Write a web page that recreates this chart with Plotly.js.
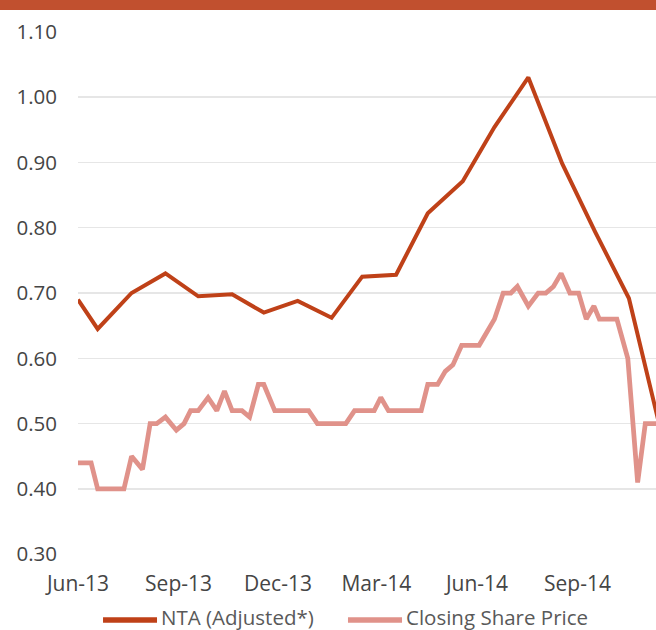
<!DOCTYPE html>
<html>
<head>
<meta charset="utf-8">
<script src="https://cdn.plot.ly/plotly-3.0.1.min.js"></script>
<style>
  html, body { margin: 0; padding: 0; background: #ffffff; }
  #chart { width: 656px; height: 630px; }
</style>
</head>
<body>
<div id="chart"></div>
<script>
// NTA (Adjusted*) - monthly values
const ntaDates = [
  '2013-06-01', '2013-06-19', '2013-07-20', '2013-08-20', '2013-09-19',
  '2013-10-20', '2013-11-18', '2013-12-19', '2014-01-19', '2014-02-16',
  '2014-03-19', '2014-04-17', '2014-05-19', '2014-06-17', '2014-07-18',
  '2014-08-18', '2014-09-17', '2014-10-18', '2014-11-16'
];
const ntaValues = [
  0.690, 0.645, 0.700, 0.730, 0.695,
  0.698, 0.670, 0.688, 0.662, 0.725,
  0.728, 0.822, 0.871, 0.954, 1.030,
  0.898, 0.794, 0.692, 0.490
];

// Closing Share Price
const priceDates = [
  '2013-06-01', '2013-06-13', '2013-06-19', '2013-07-13', '2013-07-20',
  '2013-07-30', '2013-08-06', '2013-08-12', '2013-08-20', '2013-08-30',
  '2013-09-06', '2013-09-12', '2013-09-19', '2013-09-28', '2013-10-06',
  '2013-10-13', '2013-10-20', '2013-10-29', '2013-11-05', '2013-11-13',
  '2013-11-18', '2013-11-28', '2013-12-29', '2014-01-06', '2014-02-01',
  '2014-02-09', '2014-02-27', '2014-03-05', '2014-03-12', '2014-04-11',
  '2014-04-17', '2014-04-26', '2014-05-03', '2014-05-10', '2014-05-18',
  '2014-06-03', '2014-06-10', '2014-06-17', '2014-06-25', '2014-07-02',
  '2014-07-08', '2014-07-18', '2014-07-27', '2014-08-03', '2014-08-10',
  '2014-08-17', '2014-08-25', '2014-09-02', '2014-09-09', '2014-09-16',
  '2014-09-21', '2014-10-07', '2014-10-17', '2014-10-26', '2014-11-02',
  '2014-11-09', '2014-11-16'
];
const priceValues = [
  0.44, 0.44, 0.40, 0.40, 0.45,
  0.43, 0.50, 0.50, 0.51, 0.49,
  0.50, 0.52, 0.52, 0.54, 0.52,
  0.55, 0.52, 0.52, 0.51, 0.56,
  0.56, 0.52, 0.52, 0.50, 0.50,
  0.52, 0.52, 0.54, 0.52, 0.52,
  0.56, 0.56, 0.58, 0.59, 0.62,
  0.62, 0.64, 0.66, 0.70, 0.70,
  0.71, 0.68, 0.70, 0.70, 0.71,
  0.73, 0.70, 0.70, 0.66, 0.68,
  0.66, 0.66, 0.60, 0.41, 0.50,
  0.50, 0.50
];

const tickDates = ['2013-06-01', '2013-09-01', '2013-12-01', '2014-03-01', '2014-06-01', '2014-09-01'];
const tickLabels = ['Jun-13', 'Sep-13', 'Dec-13', 'Mar-14', 'Jun-14', 'Sep-14'];
const yTicks = [0.30, 0.40, 0.50, 0.60, 0.70, 0.80, 0.90, 1.00, 1.10];
const yTickLabels = ['0.30', '0.40', '0.50', '0.60', '0.70', '0.80', '0.90', '1.00', '1.10'];
const seriesNames = ['NTA (Adjusted*)', 'Closing Share Price'];
const seriesColors = ['#BF4118', '#E0928A'];

const traces = [
  {
    x: ntaDates, y: ntaValues, name: seriesNames[0],
    type: 'scatter', mode: 'lines',
    line: { color: seriesColors[0], width: 4, shape: 'linear' },
    hoverinfo: 'skip', showlegend: false
  },
  {
    x: priceDates, y: priceValues, name: seriesNames[1],
    type: 'scatter', mode: 'lines',
    line: { color: seriesColors[1], width: 4.75, shape: 'linear' },
    hoverinfo: 'skip', showlegend: false
  }
];

// Legend drawn as line samples + text (paper coordinates)
const legendY = -0.124;
const legendItems = [
  { x0: 0.0433, x1: 0.1367, tx: 0.1420 },
  { x0: 0.4671, x1: 0.5606, tx: 0.5655 }
];

const shapes = [
  {
    type: 'rect', xref: 'paper', yref: 'paper', layer: 'above',
    x0: -0.16, x1: 1.05, y0: 1.0401, y1: 1.08,
    fillcolor: '#C1502F', line: { width: 0 }
  }
];
const annotations = [];
legendItems.forEach((it, i) => {
  shapes.push({
    type: 'line', xref: 'paper', yref: 'paper', layer: 'above',
    x0: it.x0, x1: it.x1, y0: legendY, y1: legendY,
    line: { color: seriesColors[i], width: 5.5 }
  });
  annotations.push({
    xref: 'paper', yref: 'paper', x: it.tx, y: legendY + 0.006,
    xanchor: 'left', yanchor: 'middle', showarrow: false, borderpad: 0,
    text: seriesNames[i],
    font: { family: '"Open Sans", sans-serif', size: 20.5, color: '#595959' }
  });
});

const layout = {
  width: 656, height: 630,
  margin: { l: 78, r: 0, t: 31, b: 75, pad: 0, autoexpand: false },
  paper_bgcolor: '#ffffff', plot_bgcolor: '#ffffff',
  font: { family: '"Open Sans", sans-serif', size: 20, color: '#454545' },
  showlegend: false,
  xaxis: {
    type: 'date',
    range: ['2013-06-01', '2014-11-11 19:00'],
    tickmode: 'array', tickvals: tickDates, ticktext: tickLabels,
    showgrid: false, zeroline: false, showline: false, ticks: '',
    ticklabelstandoff: 14,
    tickfont: { family: '"Open Sans", sans-serif', size: 21, color: '#454545' },
    fixedrange: true
  },
  yaxis: {
    range: [0.29893, 1.10107],
    tickmode: 'array', tickvals: yTicks, ticktext: yTickLabels,
    showgrid: true, gridcolor: '#E6E6E6', gridwidth: 1.5,
    zeroline: false, showline: false, ticks: '',
    ticklabelstandoff: 20,
    tickfont: { family: '"Open Sans", sans-serif', size: 20.5, color: '#454545' },
    fixedrange: true
  },
  shapes: shapes,
  annotations: annotations
};

Plotly.newPlot('chart', traces, layout, { displayModeBar: false, staticPlot: true });
</script>
</body>
</html>
